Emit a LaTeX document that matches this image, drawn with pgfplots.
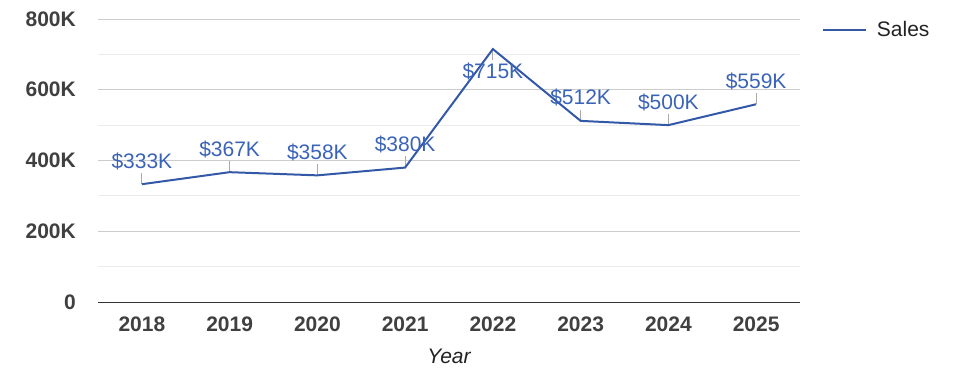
\documentclass[border=0pt]{standalone}
\usepackage{pgfplots}
\pgfplotsset{compat=1.18}
\usepackage{fontspec}
\setmainfont{Liberation Sans}
\definecolor{lineblue}{HTML}{3358A8}
\definecolor{labblue}{HTML}{3A63B8}
\definecolor{tickgray}{HTML}{404040}
\definecolor{txtdark}{HTML}{222222}
\definecolor{majgrid}{HTML}{CCCCCC}
\definecolor{mingrid}{HTML}{EBEBEB}
\definecolor{leader}{HTML}{AAAAAA}
\begin{document}
\begin{tikzpicture}
\path[use as bounding box] (0,0) rectangle (975pt,378pt);
\begin{axis}[
  at={(98pt,76pt)}, anchor=south west,
  scale only axis, width=702pt, height=283pt,
  xmin=-0.5, xmax=7.5, ymin=0, ymax=800,
  clip=false,
  xtick={0,1,2,3,4,5,6,7},
  xticklabels={2018,2019,2020,2021,2022,2023,2024,2025},
  ytick={0,200,400,600,800},
  yticklabels={0,200K,400K,600K,800K},
  minor ytick={100,300,500,700},
  ymajorgrids, yminorgrids,
  major grid style={draw=majgrid, line width=1pt},
  minor grid style={draw=mingrid, line width=1pt},
  major tick length=0pt, minor tick length=0pt,
  axis x line*=bottom, axis y line*=left,
  x axis line style={draw=black!80, line width=1pt},
  y axis line style={draw=none},
  ticklabel style={font=\fontsize{21}{25}\selectfont\bfseries, text=tickgray, inner sep=0pt},
  xticklabel style={anchor=base, yshift=-29pt},
  yticklabel style={anchor=east, xshift=-22pt},
  xlabel={Year},
  xlabel style={at={(axis description cs:0.5,0)}, anchor=base, yshift=-61.5pt,
    font=\fontsize{21}{25}\selectfont\itshape, text=txtdark, inner sep=0pt},
  legend style={at={(1.031,0.961)}, anchor=west, draw=none, fill=none, inner sep=0pt,
    font=\fontsize{21}{25}\selectfont, text=txtdark, nodes={inner sep=0pt},
    /tikz/every odd column/.append style={column sep=10pt}},
  legend cell align=left,
  legend image code/.code={\draw[#1, line width=2pt] (0pt,0pt) -- (43pt,0pt);},
]
% leaders and labels above the points
\addplot[draw=none, forget plot, point meta=explicit symbolic,
  nodes near coords,
  every node near coord/.append style={anchor=base, yshift=16pt, inner sep=0pt,
    text=labblue, font=\fontsize{21}{25}\selectfont},
  error bars/y dir=plus, error bars/y fixed=32, error bars/error mark=none,
  error bars/error bar style={draw=leader, line width=1pt}]
  coordinates {
  (0,333) [\$333K]
  (1,367) [\$367K]
  (2,358) [\$358K]
  (3,380) [\$380K]
  (5,512) [\$512K]
  (6,500) [\$500K]
  (7,559) [\$559K]
  };
% leader and label below the 2022 point
\addplot[draw=none, forget plot, point meta=explicit symbolic,
  nodes near coords,
  every node near coord/.append style={anchor=base, yshift=-29pt, inner sep=0pt,
    text=labblue, font=\fontsize{21}{25}\selectfont},
  error bars/y dir=minus, error bars/y fixed=32, error bars/error mark=none,
  error bars/error bar style={draw=leader, line width=1pt}]
  coordinates {
  (4,715) [\$715K]
  };
% main line
\addplot[draw=lineblue, line width=2pt, mark=none]
  coordinates {
  (0,333) (1,367) (2,358) (3,380) (4,715) (5,512) (6,500) (7,559)
  };
\addlegendentry{Sales}
\end{axis}
\end{tikzpicture}
\end{document}
